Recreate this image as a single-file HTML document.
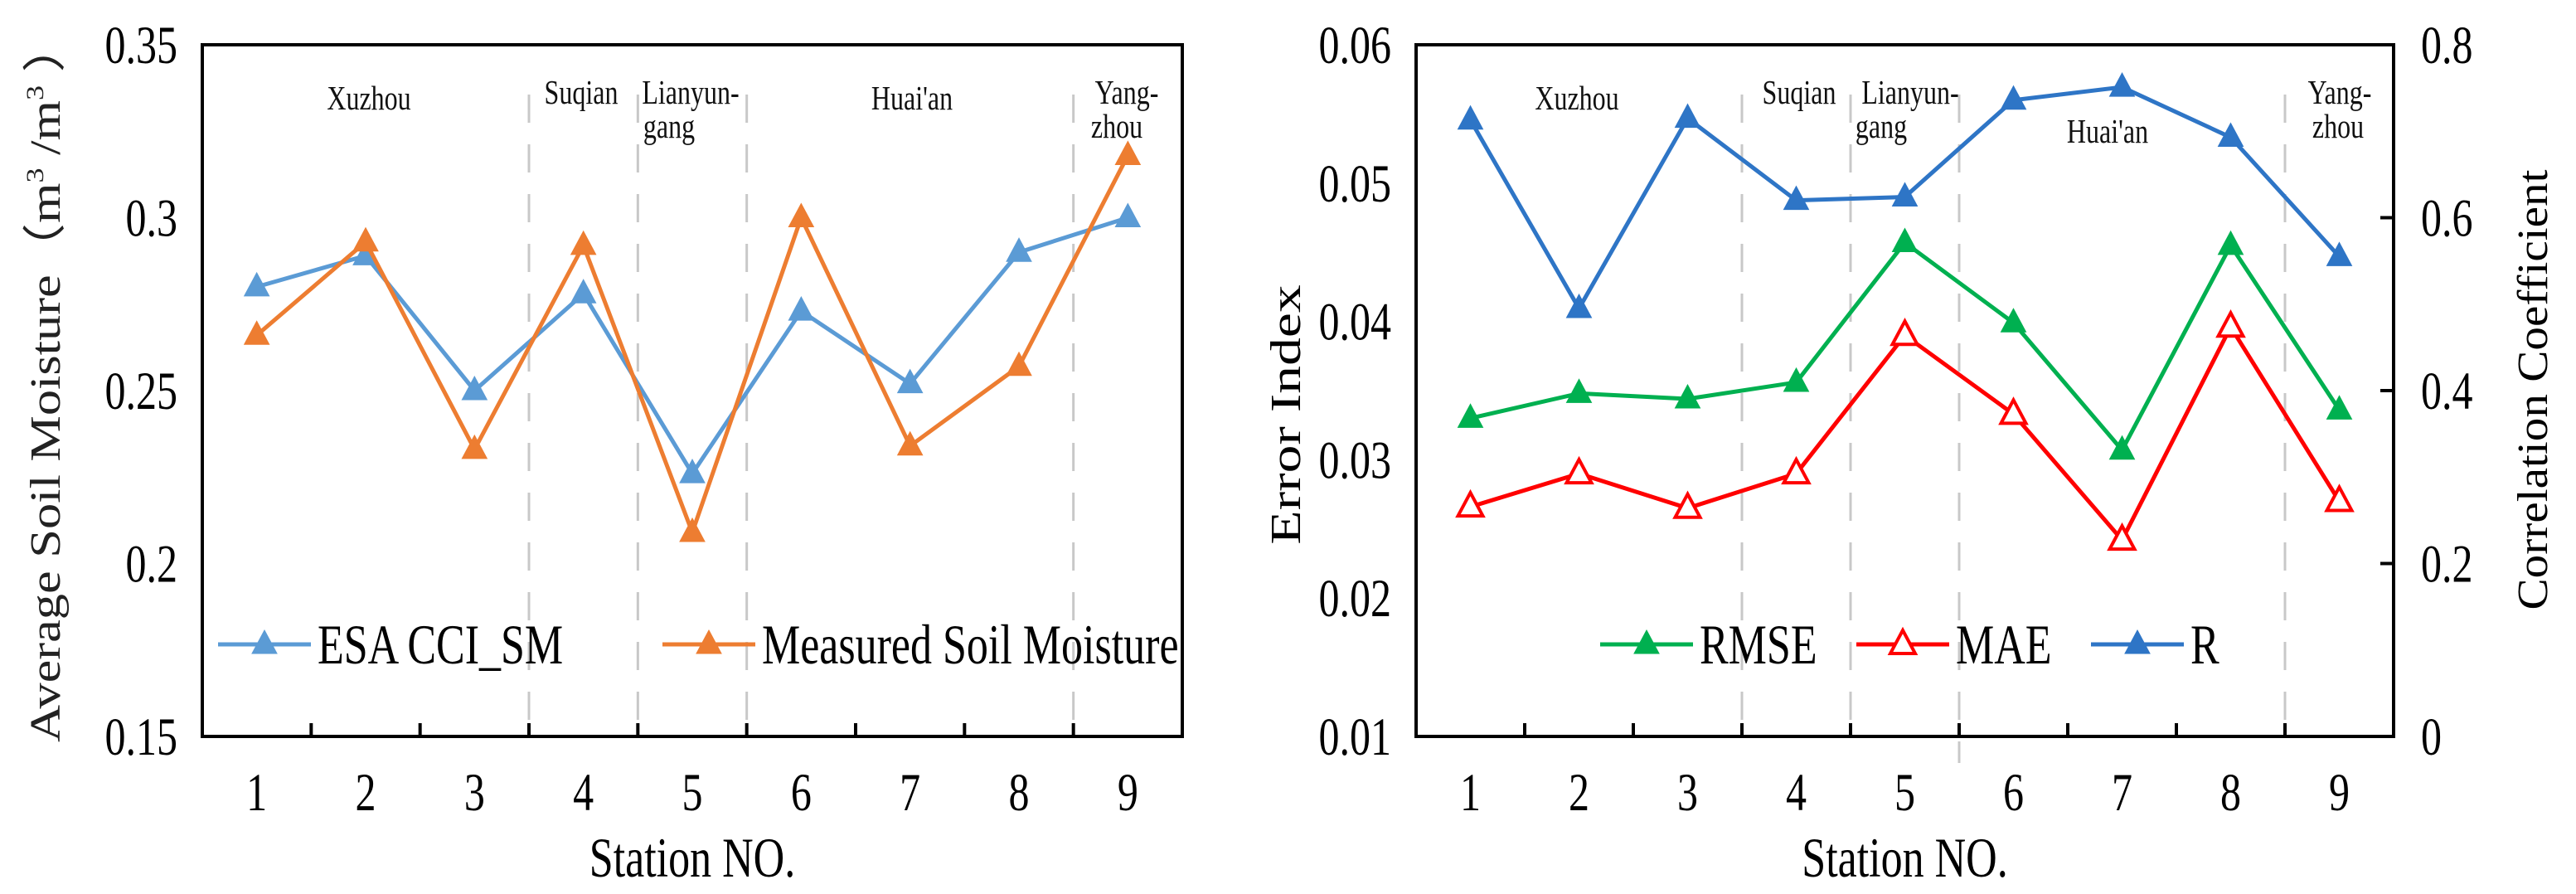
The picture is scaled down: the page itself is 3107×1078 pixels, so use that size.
<!DOCTYPE html>
<html><head><meta charset="utf-8"><style>
html,body{margin:0;padding:0;background:#fff;}
svg{display:block;font-family:"Liberation Serif",serif;}
</style></head><body>
<svg id="c" width="3107" height="1078" viewBox="0 0 3107 1078" xmlns="http://www.w3.org/2000/svg"></svg>
<script>
const stations = ["1","2","3","4","5","6","7","8","9"];
const esaValues = [0.280,0.289,0.250,0.278,0.226,0.273,0.252,0.290,0.300];
const measuredValues = [0.266,0.293,0.233,0.292,0.209,0.300,0.234,0.257,0.318];
const leftTicks = [0.15,0.2,0.25,0.3,0.35];
const leftTickLabels = ["0.15","0.2","0.25","0.3","0.35"];
const rmseValues = [0.0330,0.0348,0.0344,0.0356,0.0457,0.0399,0.0307,0.0455,0.0336];
const maeValues = [0.0266,0.0290,0.0265,0.0290,0.0390,0.0333,0.0242,0.0396,0.0270];
const rValues = [0.713,0.495,0.715,0.620,0.624,0.736,0.751,0.693,0.555];
const errTicks = [0.01,0.02,0.03,0.04,0.05,0.06];
const errTickLabels = ["0.01","0.02","0.03","0.04","0.05","0.06"];
const corrTicks = [0,0.2,0.4,0.6,0.8];
const corrTickLabels = ["0","0.2","0.4","0.6","0.8"];

const NS="http://www.w3.org/2000/svg";
const svg=document.getElementById('c');
const SY=1.3;
function mk(tag,attrs,parent,text){const e=document.createElementNS(NS,tag);for(const k in attrs)e.setAttribute(k,attrs[k]);if(text!==undefined)e.textContent=text;(parent||svg).appendChild(e);return e;}
function txt(x,y,attrs,parent,text){attrs.x=0;attrs.y=0;attrs.transform=`translate(${x},${y}) scale(1,${SY})`;return mk('text',attrs,parent,text);}
function tri(x,y,fill,stroke,parent){return mk('polygon',{points:`${x},${y-17} ${x-15},${y+11} ${x+15},${y+11}`,fill:fill,stroke:stroke,'stroke-width':fill==='#fff'?4:1},parent);}

function panel(o){
  const g=mk('g',{});
  
  
  const L=o.x0,R=o.x1,T=54,B=888,bw=(R-L)/stations.length;
  const sx=i=>L+bw*(i+0.5);
  const sy=(v,lo,hi)=>B-(v-lo)/(hi-lo)*(B-T);
  o.seps.forEach(s=>{const d=mk('line',{x1:L+bw*s,x2:L+bw*s,y1:T+60,y2:s===o.extend?920:B,stroke:'#c8c8c8','stroke-width':3,'stroke-dasharray':'34,26'},g);
    });
  o.regions.forEach(r=>{const t=txt(r[1],r[2],{'font-size':32,'text-anchor':'middle',fill:'#111'},g,r[0]);
    });
  const fr=mk('rect',{x:L,y:T,width:R-L,height:B-T,fill:'none',stroke:'#000','stroke-width':4},g);
  
  for(let i=1;i<stations.length;i++) mk('line',{x1:L+bw*i,x2:L+bw*i,y1:B,y2:B-16,stroke:'#000','stroke-width':4},g);
  stations.forEach((s,i)=>{const t=txt(sx(i),977,{'font-size':50,'text-anchor':'middle'},g,s);
    });
  const xt=txt((L+R)/2,1057,{'font-size':52,'text-anchor':'middle'},g,'Station NO.');
  
  o.lt.forEach((v,i)=>{const y=sy(v,o.lt[0],o.lt[o.lt.length-1]);
    const t=txt(L-30,y+22,{'font-size':50,'text-anchor':'end'},g,o.ll[i]);
    });
  if(o.rt){o.rt.forEach((v,i)=>{const y=sy(v,o.rt[0],o.rt[o.rt.length-1]);
    if(i>0&&i<o.rt.length-1) mk('line',{x1:R,x2:R-16,y1:y,y2:y,stroke:'#000','stroke-width':4},g);
    const t=txt(R+33,y+22,{'font-size':50,'text-anchor':'start'},g,o.rl[i]);
    });}
  o.series.forEach(s=>{
    const lo=s.axis==='r'?o.rt[0]:o.lt[0],hi=s.axis==='r'?o.rt[o.rt.length-1]:o.lt[o.lt.length-1];
    const pts=s.vals.map((v,i)=>sx(i)+','+sy(v,lo,hi)).join(' ');
    const pl=mk('polyline',{points:pts,fill:'none',stroke:s.color,'stroke-width':5},g);
    
    s.vals.forEach((v,i)=>{const m=tri(sx(i),sy(v,lo,hi),s.hollow?'#fff':s.color,s.color,g);
      });
    const lg=mk('g',{},g);
    
    mk('line',{x1:s.lg[0],x2:s.lg[0]+112,y1:777,y2:777,stroke:s.color,'stroke-width':5},lg);
    tri(s.lg[0]+56,777,s.hollow?'#fff':s.color,s.color,lg);
    txt(s.lg[0]+120,800,{'font-size':52},lg,s.label);
  });
  return g;
}
panel({name:'soil-moisture-panel',x0:244,x1:1426,lt:leftTicks,ll:leftTickLabels,seps:[3,4,5,8],
  regions:[['Xuzhou',445,132],['Suqian',701,125],['Lianyun-',833,125],['gang',807,166],["Huai'an",1100,132],['Yang-',1359,125],['zhou',1347,166]],
  series:[{id:'esa',vals:esaValues,color:'#5B9BD5',label:'ESA CCI_SM',lg:[263]},
          {id:'measured',vals:measuredValues,color:'#ED7D31',label:'Measured Soil Moisture',lg:[799]}]});
panel({name:'error-panel',x0:1708,x1:2887,lt:errTicks,ll:errTickLabels,rt:corrTicks,rl:corrTickLabels,seps:[3,4,5,8],extend:5,
  regions:[['Xuzhou',1902,132],['Suqian',2170,125],['Lianyun-',2304,125],['gang',2269,166],["Huai'an",2542,172],['Yang-',2822,125],['zhou',2820,166]],
  series:[{id:'r',vals:rValues,axis:'r',color:'#2E75C6',label:'R',lg:[2522]},
          {id:'rmse',vals:rmseValues,color:'#00B050',label:'RMSE',lg:[1930]},
          {id:'mae',vals:maeValues,color:'#FF0000',hollow:true,label:'MAE',lg:[2239]}]});
const y1=mk('text',{x:0,y:0,'font-size':52,'text-anchor':'middle',fill:'#222',transform:'translate(72,460) rotate(-90) scale(1.2,1)'},svg);

y1.innerHTML='Average Soil  Moisture（m<tspan font-size="30" dy="-20">3</tspan><tspan dy="20"> /m</tspan><tspan font-size="30" dy="-20">3</tspan><tspan dy="20"> ）</tspan>';
const y2=mk('text',{x:0,y:0,'font-size':52,'text-anchor':'middle',transform:'translate(1568,500) rotate(-90) scale(1.3,1)'},svg,'Error Index');

const y3=mk('text',{x:0,y:0,'font-size':52,'text-anchor':'middle',transform:'translate(3072,470) rotate(-90) scale(1.1,1)'},svg,'Correlation Coefficient');

</script>
</body></html>
